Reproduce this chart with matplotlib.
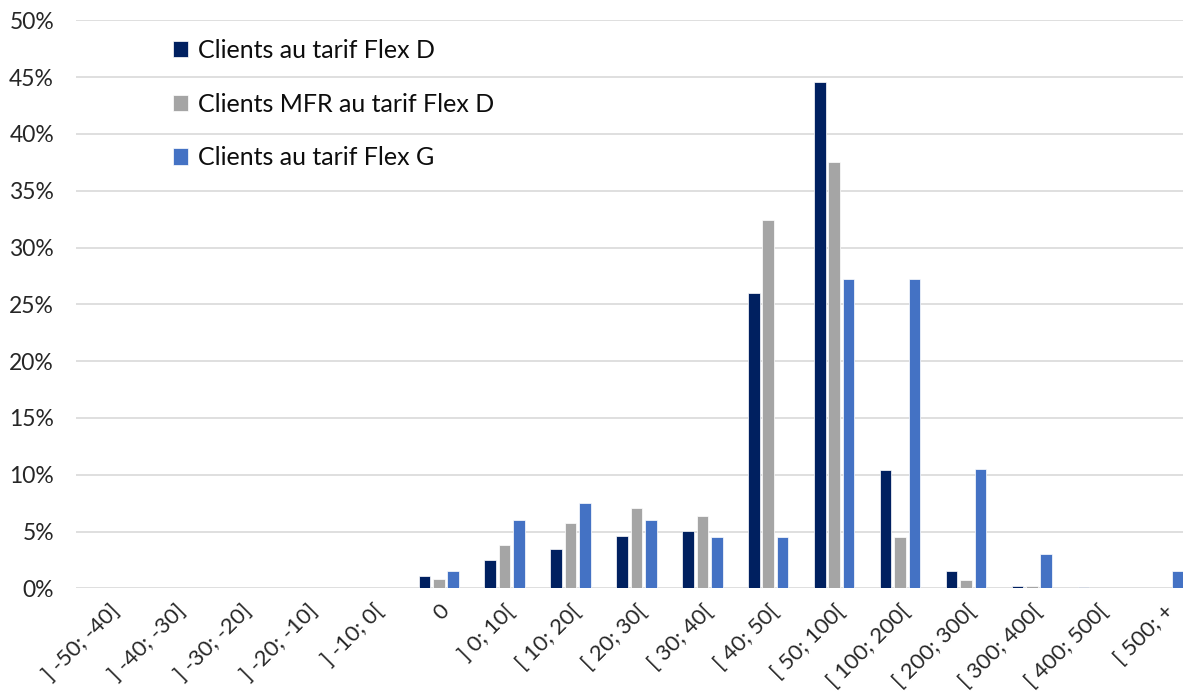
import matplotlib
matplotlib.use("Agg")
import matplotlib.pyplot as plt
import numpy as np
from matplotlib.ticker import FuncFormatter

plt.rcParams['font.family'] = ['Lato', 'DejaVu Sans']

# Distribution des clients par tranche (en %)
categories = ["] -50; -40]", "] -40; -30]", "] -30; -20]", "] -20; -10]", "] -10; 0[",
              "0", "] 0; 10[", "[ 10; 20[", "[ 20; 30[", "[ 30; 40[", "[ 40; 50[",
              "[ 50; 100[", "[ 100; 200[", "[ 200; 300[", "[ 300; 400[", "[ 400; 500[",
              "[ 500; +"]
flex_d = [0, 0, 0, 0, 0, 1.05, 2.5, 3.45, 4.6, 5.05, 26.0, 44.6, 10.4, 1.5, 0.2, 0.15, 0]
mfr_flex_d = [0, 0, 0, 0, 0, 0.85, 3.85, 5.8, 7.1, 6.4, 32.4, 37.55, 4.5, 0.75, 0.2, 0, 0]
flex_g = [0, 0, 0, 0, 0, 1.5, 6.0, 7.5, 6.0, 4.5, 4.5, 27.25, 27.25, 10.5, 3.0, 0, 1.5]

series = [
    ("Clients au tarif Flex D", flex_d, "#002060"),
    ("Clients MFR au tarif Flex D", mfr_flex_d, "#A5A5A5"),
    ("Clients au tarif Flex G", flex_g, "#4472C4"),
]

fig = plt.figure(figsize=(11.83, 6.98), dpi=100)
ax = fig.add_axes([0.0645, 0.157, 0.947, 0.814])

x = np.arange(len(categories))
step = 0.2185
width = 0.175
for i, (label, values, color) in enumerate(series):
    ax.bar(x + (i - 1) * step, values, width=width, color=color,
           edgecolor="white", linewidth=0.5, label=label, zorder=3)

ax.set_xlim(-0.5, len(categories) - 0.5)
ax.set_ylim(0, 50)
ax.set_yticks(np.arange(0, 51, 5))
ax.yaxis.set_major_formatter(FuncFormatter(lambda v, p: f"{v:.0f}%"))
ax.grid(axis="y", color="#D9D9D9", linewidth=1.2, zorder=0)
ax.set_axisbelow(True)
for s in ax.spines.values():
    s.set_visible(False)

ax.tick_params(axis="y", length=0, pad=16, labelsize=16.5, labelcolor="#262626")
ax.tick_params(axis="x", length=0, pad=9, labelsize=16, labelcolor="#262626")
ax.set_xticks(x)
ax.set_xticklabels(categories, rotation=45, ha="right", rotation_mode="anchor")

ax.legend(loc="upper left", bbox_to_anchor=(0.066, 1.007), frameon=False,
          fontsize=18, handlelength=0.62, handleheight=0.62,
          handletextpad=0.4, labelspacing=1.23, labelcolor="#0D0D0D")

fig.savefig("out.png", dpi=100)
